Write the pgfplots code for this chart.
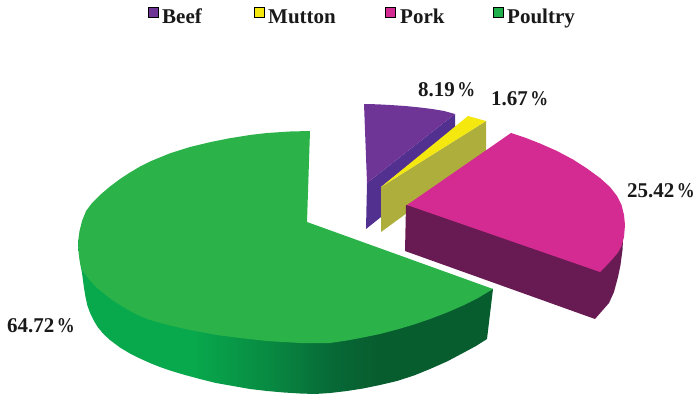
\documentclass[border=0pt]{standalone}
\usepackage{fontspec}
\setmainfont{Liberation Serif}
\usepackage{pgfplots}
\pgfplotsset{compat=1.18}

\definecolor{beefTop}{HTML}{6F3596}
\definecolor{beefSide}{HTML}{52308F}
\definecolor{muttonTop}{HTML}{F4E80F}
\definecolor{muttonSide}{HTML}{AEAE3C}
\definecolor{porkTop}{HTML}{D42B92}
\definecolor{porkSide}{HTML}{671B52}
\definecolor{poultryTop}{HTML}{2BB34A}
\definecolor{poultryKey}{HTML}{1FAF4B}
\definecolor{rimA}{HTML}{08A84C}
\definecolor{rimB}{HTML}{088A42}
\definecolor{rimC}{HTML}{076836}
\definecolor{rimD}{HTML}{085D2F}

% Rim of the large slice: bright on the left, dark towards its right end.
\pgfdeclarehorizontalshading{poultryrim}{100bp}{
  color(0bp)=(rimA);
  color(39bp)=(rimA);
  color(48bp)=(rimB);
  color(56bp)=(rimC);
  color(61bp)=(rimD);
  color(100bp)=(rimD)}

\newcommand{\lbl}[3]{\node[anchor=base west,inner sep=0pt,font=\bfseries\fontsize{21}{24}\selectfont,text=black!90] at (axis cs:#1,#2) {#3};}
% Narrow percent sign used by the slice labels
\newcommand{\pct}{\kern2.5pt\scalebox{0.85}[1]{\%}}

\begin{document}
\begin{tikzpicture}
\path[use as bounding box] (0,0) rectangle (695pt,395pt);
\begin{axis}[
  at={(0,0)}, anchor=south west,
  width=695pt, height=395pt, scale only axis,
  xmin=0, xmax=695, ymin=0, ymax=395, y dir=reverse,
  axis lines=none, clip=true]

% Beef
\addplot[fill=beefSide, draw=none] coordinates {
  (367,183) (455,114) (455,128) (381,187) (381,217) (366,229) } --cycle;
\addplot[fill=beefTop, draw=none] coordinates {
  (364,104) (377,104.3) (390,105) (405,106) (420,107.5) (432,109) (444,111) (455,114) (367,183) } --cycle;

% Mutton
\addplot[fill=muttonSide, draw=none] coordinates {
  (381,187) (486,121) (486,152) (407,213) (381,232) } --cycle;
\addplot[fill=muttonTop, draw=none] coordinates {
  (381,187) (468,116) (486,121) } --cycle;

% Pork
\addplot[fill=porkSide, draw=none] coordinates {
  (406,205) (623,240) (622.5,250) (620.5,265) (618,277) (614,292) (609,303) (602,311) (595,319) (405,251) } --cycle;
\addplot[fill=porkTop, draw=none] coordinates {
  (407,205) (511,133) (526,138) (540,143.5) (557,151) (573,159.5) (587,168.5) (600,178) (610,187) (617,196) (621.5,205) (624,215) (625,225) (624,237) (621.5,246) (618,252.5) (613,258.5) (607,265) (600,272) } --cycle;

% Poultry
\addplot[shade, shading=poultryrim, draw=none] coordinates {
  (78,240) (79,255) (81,268) (82,273) (84,288) (85.5,297) (87.5,306) (90.5,314) (94,321) (98,327.5) (103.5,334) (110,340) (120,347.5) (130,353.5) (140,358.5) (150,363) (160,367) (170,370.5) (185,375) (200,379) (216,383) (233,386) (250,389) (267,391) (284,392.5) (300,393.5) (315,394) (330,393) (347,391) (363,388.5) (380,385) (397,381) (414,375.5) (430,369) (447,361.5) (463,353) (476,346) (487,339) (493,289) (400,285) (100,235) } --cycle;
\addplot[fill=poultryTop, draw=none] coordinates {
  (310,131) (290,131.5) (267,133) (250,135) (230,138.2) (210,142.2) (190,147) (170,153.3) (150,161.5) (140,166.5) (130,172.5) (120,179) (110,186.5) (100,195) (92,203) (86,211) (82,221) (79.5,231) (78.3,240) (78.3,248) (79,255) (80,263) (82,270) (89,279.5) (97,288) (110,298.5) (120,305) (130,311) (140,316) (150,320) (170,325.5) (190,330) (217,335) (240,338) (267,341) (300,343) (330,343) (347,340.5) (363,337.5) (380,334) (397,329.5) (414,324.5) (430,319) (447,312.5) (463,305.5) (478,298) (493,289) (307,222) } --cycle;

% Key swatches
\addplot[only marks, mark=square*, mark size=5pt, mark options={fill=beefTop, draw=none}] coordinates {(153,12.5)};
\addplot[only marks, mark=square*, mark size=5pt, mark options={fill=muttonTop, draw=none}] coordinates {(259.5,12.5)};
\addplot[only marks, mark=square*, mark size=5pt, mark options={fill=porkTop, draw=none}] coordinates {(390,12.5)};
\addplot[only marks, mark=square*, mark size=5pt, mark options={fill=poultryKey, draw=none}] coordinates {(498.5,12.5)};

\lbl{162}{24}{Beef}
\lbl{268}{24}{Mutton}
\lbl{400}{24}{Pork}
\lbl{507}{24}{Poultry}

\lbl{418}{97}{8.19\pct}
\lbl{491}{106}{1.67\pct}
\lbl{627}{198}{25.42\pct}
\lbl{7}{332}{64.72\pct}
\end{axis}
\end{tikzpicture}
\end{document}
